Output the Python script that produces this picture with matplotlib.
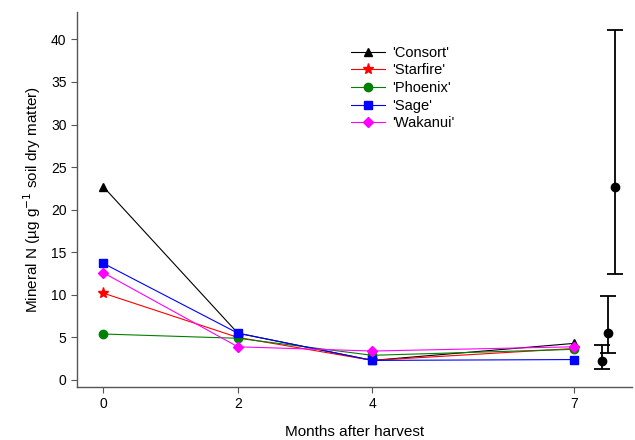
import numpy as np
from matplotlib import pyplot as plt

months = [0, 2, 4, 7]
consort = [22.7, 5.5, 2.3, 4.3]
starfire = [10.2, 5.0, 2.3, 3.7]
phoenix = [5.4, 4.9, 2.9, 3.6]
sage = [13.7, 5.5, 2.3, 2.4]
wakanui = [12.6, 3.9, 3.4, 3.9]

# LSD-style error bars drawn to the right of the last sampling
err_x = [7.41, 7.50, 7.61]
err_y = [2.2, 5.5, 22.7]
err_lo = [1.3, 3.2, 12.5]
err_hi = [4.1, 9.85, 41.1]

series = [
    ("'Consort'", consort, "black", "^"),
    ("'Starfire'", starfire, "red", "*"),
    ("'Phoenix'", phoenix, "green", "o"),
    ("'Sage'", sage, "blue", "s"),
    ("'Wakanui'", wakanui, "magenta", "D"),
]

plt.rcParams['font.family'] = ['Liberation Sans', 'DejaVu Sans']

fig = plt.figure(figsize=(6.35, 4.4), dpi=100)
ax = fig.add_axes([0.1213, 0.1205, 0.874, 0.852])

for name, vals, col, mk in series:
    ms = 8 if mk == "*" else 6
    if mk == "D":
        ms = 5.5
    ax.plot(months, vals, color=col, marker=mk, markersize=ms, linewidth=0.8,
            label=name, markeredgecolor=col, markerfacecolor=col)

lo = np.array(err_y) - np.array(err_lo)
hi = np.array(err_hi) - np.array(err_y)
ax.errorbar(err_x, err_y, yerr=[lo, hi], fmt='o', color='black', markersize=6,
            linewidth=1.3, capsize=6, capthick=1.3)

ax.set_xlim(-0.39, 7.86)
ax.set_ylim(-0.82, 43.2)
ax.set_xticks(months)
ax.set_yticks(range(0, 45, 5))
ax.tick_params(direction='out', length=4, width=0.8, color='#555555', labelsize=10)
for s in ['top', 'right']:
    ax.spines[s].set_visible(False)
for s in ['left', 'bottom']:
    ax.spines[s].set_color('#555555')
    ax.spines[s].set_linewidth(1.0)

ax.set_xlabel("Months after harvest", fontsize=11, labelpad=10)
ax.set_ylabel("Mineral N (\u00b5g g$^{-1}$ soil dry matter)", fontsize=11, labelpad=6)

ax.legend(loc='upper left', bbox_to_anchor=(0.47, 0.945), frameon=False, fontsize=10.5,
          handlelength=2.3, labelspacing=0.25, handletextpad=0.55)

fig.savefig("out.png", dpi=100)
